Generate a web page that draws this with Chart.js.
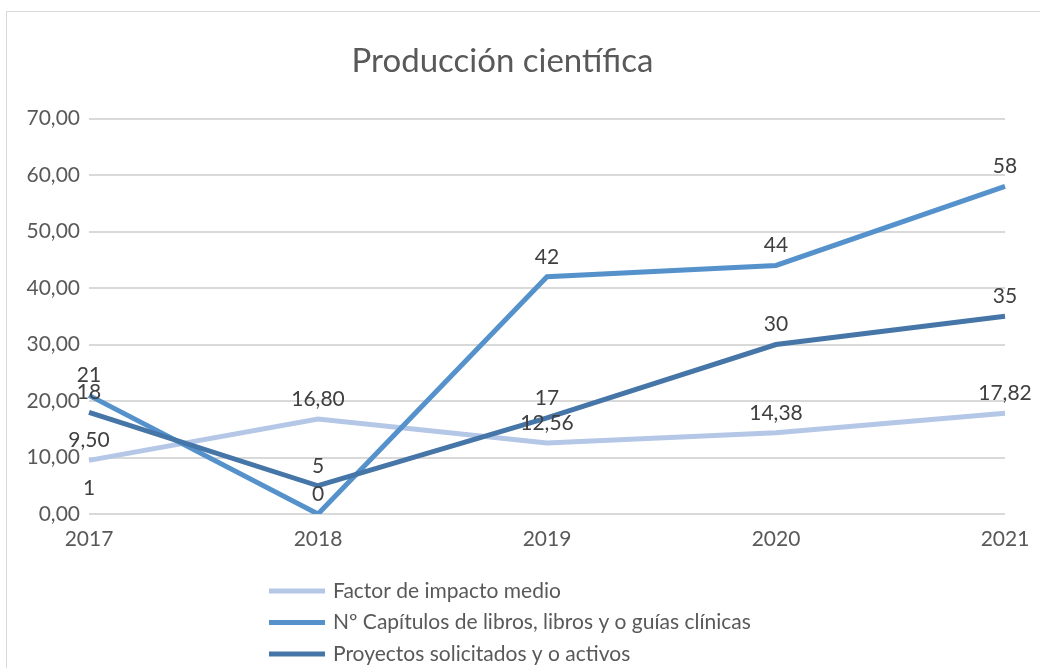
<!DOCTYPE html>
<html lang="es">
<head>
<meta charset="utf-8">
<title>Producción científica</title>
<script src="https://cdn.jsdelivr.net/npm/chart.js@4/dist/chart.umd.min.js"></script>
<style>
    body { margin: 0; width: 1040px; height: 668px; overflow: hidden; background: #fff; }
    #marco { position: absolute; left: 6px; top: 11px; width: 1100px; height: 700px; border: 1px solid #d9d9d9; }
    #grafico { position: absolute; left: 0; top: 0; }
</style>
</head>
<body>
<div id="marco"></div>
<canvas id="grafico" width="1040" height="668"></canvas>
<script>
const anios = ['2017', '2018', '2019', '2020', '2021'];
const factorImpacto = [9.50, 16.80, 12.56, 14.38, 17.82];
const capitulos = [21, 0, 42, 44, 58];
const proyectos = [18, 5, 17, 30, 35];
const etiquetaSuelta = [1, null, null, null, null];
const ticksY = [0, 10, 20, 30, 40, 50, 60, 70];

const fuente = 'Lato, "Open Sans", sans-serif';

function formatoComa(v, dec) {
    return v.toFixed(dec).replace('.', ',');
}

// etiquetas de datos encima de cada punto
const etiquetasDatos = {
    id: 'etiquetasDatos',
    afterDatasetsDraw(chart) {
        const ctx = chart.ctx;
        ctx.save();
        ctx.font = '21px ' + fuente;
        ctx.fillStyle = '#404040';
        ctx.textAlign = 'center';
        ctx.textBaseline = 'middle';
        chart.data.datasets.forEach((ds, i) => {
            const meta = chart.getDatasetMeta(i);
            meta.data.forEach((pt, j) => {
                const v = ds.data[j];
                if (v === null || v === undefined) return;
                ctx.fillText(formatoComa(v, ds.decimales), pt.x, pt.y - 20);
            });
        });
        ctx.restore();
    }
};

// leyenda vertical debajo del grafico
const leyenda = {
    id: 'leyenda',
    afterDraw(chart) {
        const ctx = chart.ctx;
        ctx.save();
        ctx.font = '21px ' + fuente;
        ctx.fillStyle = '#595959';
        ctx.textBaseline = 'middle';
        let y = 591;
        chart.data.datasets.forEach(ds => {
            if (!ds.label) return;
            ctx.strokeStyle = ds.borderColor;
            ctx.lineWidth = 5;
            ctx.beginPath();
            ctx.moveTo(269, y);
            ctx.lineTo(325, y);
            ctx.stroke();
            ctx.fillText(ds.label, 333, y);
            y += 31.5;
        });
        ctx.restore();
    }
};

const graficoCtx = document.getElementById('grafico').getContext('2d');
const grafico = new Chart(graficoCtx, {
    type: 'line',
    data: {
        labels: anios,
        datasets: [{
            label: 'Factor de impacto medio',
            data: factorImpacto,
            borderColor: '#b4c7e7',
            decimales: 2,
            order: 3
        }, {
            label: 'Nº Capítulos de libros, libros y o guías clínicas',
            data: capitulos,
            borderColor: '#5592cb',
            decimales: 0,
            order: 2
        }, {
            label: 'Proyectos solicitados y o activos',
            data: proyectos,
            borderColor: '#4676a8',
            decimales: 0,
            order: 1
        }, {
            label: '',
            data: etiquetaSuelta,
            borderColor: 'rgba(0,0,0,0)',
            borderWidth: 0,
            decimales: 0,
            order: 4
        }]
    },
    options: {
        responsive: false,
        animation: false,
        datasets: {
            line: { borderWidth: 5, pointRadius: 0, tension: 0, fill: false }
        },
        layout: { padding: { left: 0, right: 35, top: 0, bottom: 114 } },
        plugins: {
            legend: { display: false },
            tooltip: { enabled: false },
            title: {
                display: true,
                text: 'Producción científica',
                color: '#595959',
                font: { family: fuente, size: 33, weight: 'normal' },
                padding: { top: 42, bottom: 37 }
            }
        },
        scales: {
            x: {
                offset: false,
                grid: { display: false },
                border: { display: false },
                ticks: { color: '#595959', font: { family: fuente, size: 21 }, padding: 5, maxRotation: 0 },
                afterFit: s => { s.height = 40; }
            },
            y: {
                min: 0,
                max: 70,
                grid: { color: '#d9d9d9', lineWidth: 2, drawTicks: false },
                border: { display: false },
                afterBuildTicks: s => { s.ticks = ticksY.map(v => ({ value: v })); },
                ticks: {
                    color: '#595959',
                    font: { family: fuente, size: 21 },
                    padding: 9,
                    callback: v => formatoComa(v, 2)
                },
                afterFit: s => { s.width = 89; }
            }
        }
    },
    plugins: [etiquetasDatos, leyenda]
});
</script>
</body>
</html>
